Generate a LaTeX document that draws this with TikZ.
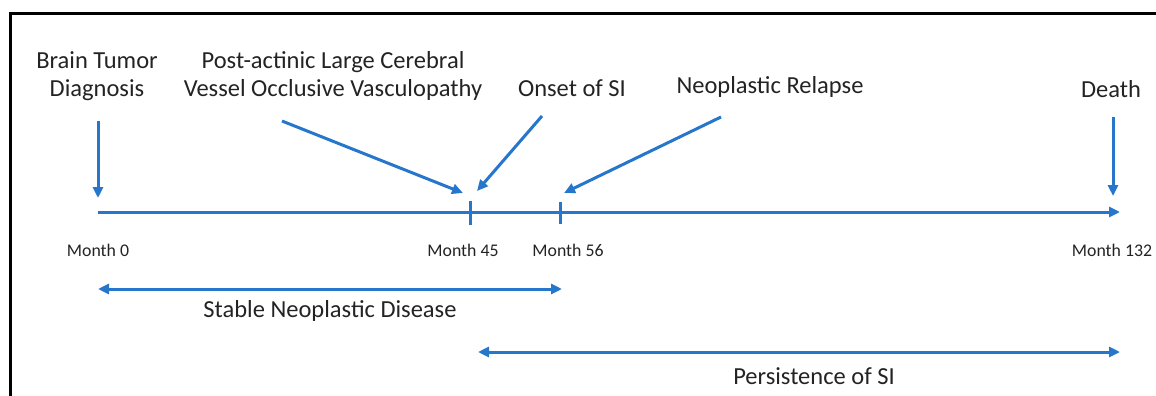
\documentclass[tikz,border=0pt]{standalone}
\usepackage{fontspec}
\setmainfont{Carlito}
\usetikzlibrary{arrows.meta}
\definecolor{lineblue}{RGB}{38,118,204}
\definecolor{textgray}{RGB}{35,35,35}

\begin{document}
\begin{tikzpicture}[x=1pt, y=-1pt, >={Triangle[length=11pt,width=10pt]},
  event/.style={align=center, text=textgray, font=\fontsize{24.5}{28}\selectfont, inner sep=0pt},
  month/.style={text=textgray, font=\fontsize{17.8}{20}\selectfont, inner sep=0pt},
  span/.style={text=textgray, font=\fontsize{24.5}{28}\selectfont, inner sep=0pt},
  bluearrow/.style={->, draw=lineblue, line width=3pt},
  tick/.style={draw=lineblue, line width=3pt},]
\useasboundingbox (0,0) rectangle (1156,396);
\draw [line width=3pt] (10,396) -- (10,14) -- (1160,14);

% events above the timeline
\node[event] (diag) at (97, 76)  {Brain Tumor\\Diagnosis};
\node[event] (vasc) at (333, 76) {Post-actinic Large Cerebral\\Vessel Occlusive Vasculopathy};
\node[event] (onset) at (572, 88) {Onset of SI};
\node[event] (relapse) at (770, 87) {Neoplastic Relapse};
\node[event] (death) at (1111, 89) {Death};

% timeline
\coordinate (t0) at (98, 212);
\coordinate (tend) at (1120, 212);
\coordinate (t45) at (470, 212);
\coordinate (t56) at (560, 212);
\draw [bluearrow] (t0) -- (tend);
\draw [tick] ([yshift=-13pt]t45) -- ([yshift=11pt]t45);
\draw [tick] ([yshift=-12pt]t56) -- ([yshift=10pt]t56);

% pointers
\coordinate (diagS) at (98, 121);
\coordinate (diagE) at (98, 198);
\coordinate (vascS) at (282, 121);
\coordinate (vascE) at (463, 193);
\coordinate (onsetS) at (542, 116);
\coordinate (onsetE) at (477, 191);
\coordinate (relapseS) at (721, 117);
\coordinate (relapseE) at (564, 193);
\coordinate (deathS) at (1113, 117);
\coordinate (deathE) at (1113, 196);
\draw [bluearrow] (diagS) -- (diagE);
\draw [bluearrow] (vascS) -- (vascE);
\draw [bluearrow] (onsetS) -- (onsetE);
\draw [bluearrow] (relapseS) -- (relapseE);
\draw [bluearrow] (deathS) -- (deathE);

% months
\node[month] (m0) at (98, 250) {Month 0};
\node[month] (m45) at (463, 250) {Month 45};
\node[month] (m56) at (568, 250) {Month 56};
\node[month] (m132) at (1112, 250) {Month 132};

% periods
\coordinate (stableL) at (98, 289);
\coordinate (stableR) at (562, 289);
\coordinate (persL) at (478, 352);
\coordinate (persR) at (1120, 352);
\draw [bluearrow, <->] (stableL) -- (stableR);
\draw [bluearrow, <->] (persL) -- (persR);
\node[span] (stable) at (330, 311) {Stable Neoplastic Disease};
\node[span] (pers) at (814, 376) {Persistence of SI};
\end{tikzpicture}
\end{document}
